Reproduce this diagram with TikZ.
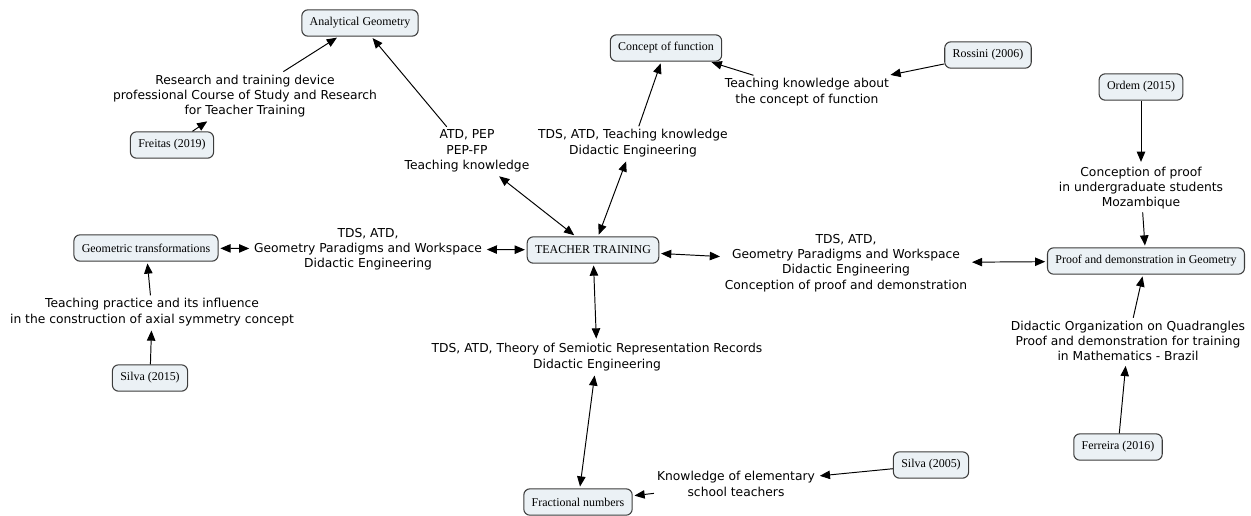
\documentclass[tikz,border=0pt]{standalone}
\usepackage{fontspec}
\setmainfont{Liberation Serif}
\newfontfamily\phrasefont{DejaVu Sans}
\usetikzlibrary{arrows.meta}
\definecolor{conceptblue}{RGB}{235,241,245}
\definecolor{conceptgray}{RGB}{60,60,60}

\begin{document}
\begin{tikzpicture}[x=0.02cm,y=-0.02cm,shorten >=1pt,line width=0.55pt,
  -{Triangle[length=5.8pt,width=4.8pt]}]
  \tikzstyle{concept}=[rectangle, rounded corners=3.5pt, fill=conceptblue,
draw=conceptgray, line width=0.6pt, font=\fontsize{6.8}{8}\selectfont,
inner xsep=4.5pt, minimum height=15pt]
  \tikzstyle{phrase}=[align=center, font=\phrasefont\fontsize{7}{8.7}\selectfont, inner sep=1.5pt]
  \tikzstyle{twoway}=[{Triangle[length=5.8pt,width=4.8pt]}-{Triangle[length=5.8pt,width=4.8pt]}, shorten <=1pt]
  \useasboundingbox (0,0) rectangle (1251,515);

  % concepts
  \node[concept] (C_1) at (593,250) {TEACHER TRAINING};
  \node[concept] (C_2) at (360,23)  {Analytical Geometry};
  \node[concept] (C_3) at (666,48)  {Concept of function};
  \node[concept] (C_4) at (146,248) {Geometric transformations};
  \node[concept] (C_5) at (1146,261) {Proof and demonstration in Geometry};
  \node[concept] (C_6) at (578,502) {Fractional numbers};

  % authors
  \node[concept] (A_1) at (172,145) {Freitas (2019)};
  \node[concept] (A_2) at (988,55)  {Rossini (2006)};
  \node[concept] (A_3) at (1141,87) {Ordem (2015)};
  \node[concept] (A_4) at (1118,447) {Ferreira (2016)};
  \node[concept] (A_5) at (150,378) {Silva (2015)};
  \node[concept] (A_6) at (931,465) {Silva (2005)};

  % linking phrases
  \node[phrase] (L_1) at (245,96)  {Research and training device\\professional Course of Study and Research\\for Teacher Training};
  \node[phrase] (L_2) at (467,151) {ATD, PEP\\PEP-FP\\Teaching knowledge};
  \node[phrase] (L_3) at (633,143) {TDS, ATD, Teaching knowledge\\Didactic Engineering};
  \node[phrase] (L_4) at (807,92)  {Teaching knowledge about\\the concept of function};
  \node[phrase] (L_5) at (1141,188) {Conception of proof\\in undergraduate students\\Mozambique};
  \node[phrase] (L_6) at (368,249) {TDS, ATD,\\Geometry Paradigms and Workspace\\Didactic Engineering};
  \node[phrase] (L_7) at (846,263) {TDS, ATD,\\Geometry Paradigms and Workspace\\Didactic Engineering\\Conception of proof and demonstration};
  \node[phrase] (L_8) at (152,312) {Teaching practice and its influence\\in the construction of axial symmetry concept};
  \node[phrase] (L_9) at (597,357) {TDS, ATD, Theory of Semiotic Representation Records\\Didactic Engineering};
  \node[phrase] (L_10) at (1128,341) {Didactic Organization on Quadrangles\\Proof and demonstration for training\\in Mathematics - Brazil};
  \node[phrase] (L_11) at (736,484) {Knowledge of elementary\\school teachers};

  \draw (A_1) -- (L_1);
  \draw (L_1) -- (C_2);
  \draw[twoway] (C_1) -- (L_2);
  \draw (L_2) -- (C_2);
  \draw[twoway] (C_1) -- (L_3);
  \draw (L_3) -- (C_3);
  \draw (A_2) -- (L_4);
  \draw (L_4) -- (C_3);
  \draw (A_3) -- (L_5);
  \draw (L_5) -- (C_5);
  \draw[twoway] (C_4) -- (L_6);
  \draw[twoway] (L_6) -- (C_1);
  \draw[twoway] (C_1) -- (L_7);
  \draw[twoway] (L_7) -- (C_5);
  \draw (A_5) -- (L_8);
  \draw (L_8) -- (C_4);
  \draw[twoway] (C_1) -- (L_9);
  \draw[twoway] (L_9) -- (C_6);
  \draw (A_4) -- (L_10);
  \draw (L_10) -- (C_5);
  \draw (A_6) -- (L_11);
  \draw (L_11) -- (C_6);
\end{tikzpicture}
\end{document}
